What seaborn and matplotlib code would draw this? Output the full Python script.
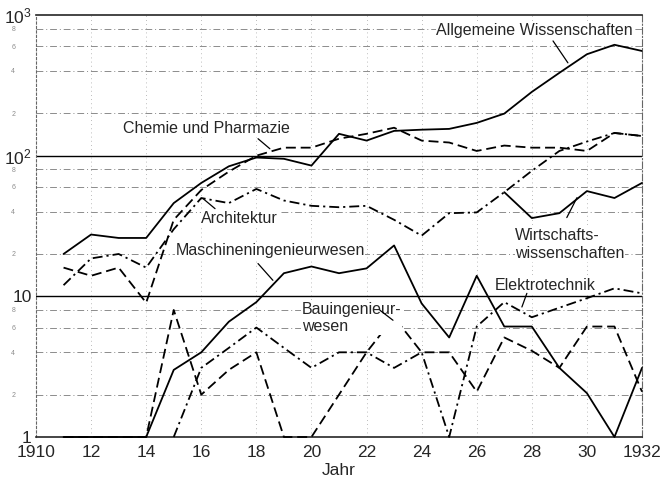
import matplotlib
matplotlib.use("Agg")
import matplotlib.pyplot as plt
import matplotlib.ticker as mticker
import seaborn as sns
import pandas as pd

# ---------------- data ----------------
years = list(range(1911, 1933))

allgemeine = [20, 27.5, 26, 26, 46, 64, 84, 97, 95, 85, 143, 128,
              150, 153, 155, 171, 199, 284, 388, 526, 614, 555]
chemie = [16, 14, 16, 9, 35, 57, 77, 100, 114, 114, 132, 143,
          158, 128, 124, 108, 118, 114, 114, 108, 145, 138]
architektur = [12, 18.6, 20, 16, 30, 50, 46, 58, 48, 44, 43, 44,
               35, 27, 39, 39.5, 55, 78, 108, 126, 145, 138]
maschinen = [1, 1, 1, 1, 3.0, 4.0, 6.6, 9.1, 14.6, 16.3, 14.6, 15.8,
             23, 8.9, 5.1, 14, 6.1, 6.1, 3.1, 2.05, 1, 3.1]
bauing = [1, 1, 1, 1, 8, 2, 3, 4, 1, 1, 2, 4,
          7.1, 4, 4, 2.1, 5.1, 4.1, 3.1, 6.1, 6.1, 2.1]

wirtschaft_years = list(range(1927, 1933))
wirtschaft = [55, 36, 39, 56, 50, 64]

elektro_years = list(range(1915, 1933))
elektro = [1, 3.1, 4.3, 6, 4.3, 3.1, 4, 4, 3.1, 4, 1, 6.1,
           9.1, 7.1, 8.3, 9.7, 11.4, 10.5]

x_ticks = list(range(1910, 1933, 2))
x_labels = ["1910", "12", "14", "16", "18", "20", "22", "24", "26", "28", "30", "1932"]

# ---------------- style ----------------
sns.set_style("white")
plt.rcParams["font.family"] = ["Liberation Sans", "DejaVu Sans"]
plt.rcParams["mathtext.fontset"] = "custom"
plt.rcParams["mathtext.rm"] = "Liberation Sans"

DASH = (0, (5.5, 2.7))
DASHDOT = (0, (5.5, 2.2, 1.2, 2.2))
LW = 1.3

fig = plt.figure(figsize=(6.63, 4.86), dpi=100)
ax = fig.add_axes([36 / 663, 1 - 437 / 486, (642 - 36) / 663, (437 - 15) / 486])

series = [
    (years, allgemeine, "-"),
    (years, chemie, DASH),
    (years, architektur, DASHDOT),
    (wirtschaft_years, wirtschaft, "-"),
    (years, maschinen, "-"),
    (years, bauing, DASH),
    (elektro_years, elektro, DASHDOT),
]

for xs, ys, ls in series:
    df = pd.DataFrame({"Jahr": xs, "n": ys})
    sns.lineplot(data=df, x="Jahr", y="n", ax=ax, color="black",
                 linewidth=LW, linestyle=ls, zorder=3)

# lines lying on the bottom axis should not be cut in half
for line in ax.get_lines():
    line.set_clip_on(False)

ax.set_yscale("log")
ax.set_xlim(1910, 1932)
ax.set_ylim(1, 1000)

# ---------------- ticks and grid ----------------
ax.set_xticks(x_ticks)
ax.set_xticklabels(x_labels, fontsize=12.5)
ax.yaxis.set_major_locator(mticker.FixedLocator([1, 10, 100, 1000]))
ax.set_yticklabels(["1", "10", r"$\mathregular{10^2}$", r"$\mathregular{10^3}$"], fontsize=12.5)
minor = [m * 10 ** k for k in range(3) for m in (2, 4, 6, 8)]
ax.yaxis.set_minor_locator(mticker.FixedLocator(minor))
ax.yaxis.set_minor_formatter(
    mticker.FixedFormatter([str(m) for k in range(3) for m in (2, 4, 6, 8)]))
ax.tick_params(axis="y", which="minor", labelsize=5, labelcolor="0.55",
               length=2, color="0.5", pad=13)
ax.tick_params(axis="y", which="major", length=0, pad=3)
ax.tick_params(axis="x", length=0, pad=6)

ax.grid(False)
for v in [10, 100]:
    ax.axhline(v, color="black", lw=1.0, zorder=1)
for v in minor:
    ax.axhline(v, color="0.55", lw=0.7, linestyle=(0, (7, 3, 1, 3)), zorder=1)
for yr in x_ticks[1:-1]:
    ax.axvline(yr, color="0.65", lw=0.6, linestyle=(0, (1, 4)), zorder=1)

ax.spines["top"].set_linewidth(1.2)
ax.spines["bottom"].set_linewidth(1.2)
ax.spines["left"].set_linewidth(0.8)
ax.spines["left"].set_linestyle((0, (2, 2)))
ax.spines["left"].set_color("0.4")
ax.spines["right"].set_linewidth(0.8)
ax.spines["right"].set_linestyle((0, (6, 2, 1, 2)))
ax.spines["right"].set_color("0.4")

ax.set_xlabel("Jahr", fontsize=12.5, labelpad=2)
ax.set_ylabel("")

# ---------------- labels with pointer lines ----------------
box = dict(facecolor="white", edgecolor="none", pad=0.5)
tk = dict(fontsize=11.5, zorder=4, bbox=box)

ax.text(1928.1, 770, "Allgemeine Wissenschaften", ha="center", va="center", **tk)
ax.plot([1928.77, 1929.31], [654, 457], color="black", lw=0.9, zorder=4)

ax.text(1916.2, 155, "Chemie und Pharmazie", ha="center", va="center", **tk)
ax.plot([1918.06, 1918.49], [132, 112], color="black", lw=0.9, zorder=4)

ax.text(1917.4, 35.7, "Architektur", ha="center", va="center", **tk)
ax.plot([1916.5, 1916.06], [42, 49.6], color="black", lw=0.9, zorder=4)

ax.text(1918.5, 21.2, "Maschineningenieurwesen", ha="center", va="center", **tk)
ax.plot([1918.06, 1918.6], [17.1, 13], color="black", lw=0.9, zorder=4)

ax.text(1919.65, 7.0, "Bauingenieur-\nwesen", ha="left", va="center",
        linespacing=1.2, **tk)
ax.plot([1922.49, 1922.96], [7.95, 6.76], color="black", lw=0.9, zorder=4)

ax.text(1927.4, 23.4, "Wirtschafts-\nwissenschaften", ha="left", va="center",
        linespacing=1.25, **tk)
ax.plot([1929.27, 1929.64], [36.3, 50.3], color="black", lw=0.9, zorder=4)

ax.text(1928.5, 12.0, "Elektrotechnik", ha="center", va="center", **tk)
ax.plot([1927.82, 1927.64], [10.5, 8.4], color="black", lw=0.9, zorder=4)

fig.savefig("out.png", dpi=100)
